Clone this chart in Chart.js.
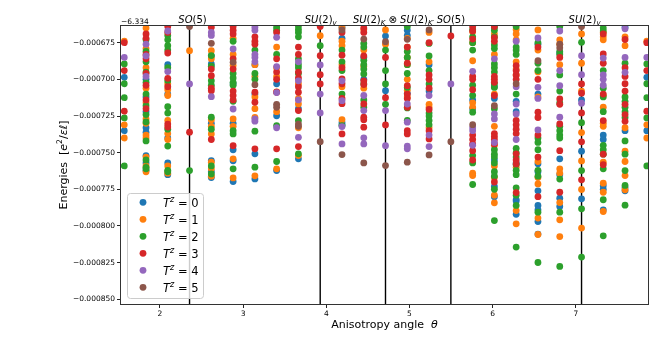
<!DOCTYPE html>
<html><head><meta charset="utf-8">
<script src="https://cdn.jsdelivr.net/npm/chart.js@4/dist/chart.umd.min.js"></script>
<style>html,body{margin:0;padding:0;background:#fff}#wrap{width:664px;height:354px;position:relative}</style>
</head><body><div id="wrap"><canvas id="c" width="664" height="354"></canvas></div>
<script>
// Anisotropy angles (columns)
const angles = [1.571, 1.833, 2.094, 2.356, 2.618, 2.880, 3.142, 3.403, 3.665, 3.927, 4.189, 4.451, 4.712,
                4.974, 5.236, 5.498, 5.760, 6.021, 6.283, 6.545, 6.807, 7.069, 7.330, 7.592, 7.854];
// Energies in units of 1e-6, relative to offset -6.334 (one list per column)
const tz0 = [
 [-698.6,-735],[-700,-712,-722,-733,-736,-752,-757,-762],[-690,-710,-740,-757,-765],[],
 [-684,-689.5,-730,-755.4,-763,-767],[-703,-730,-748,-755.5,-769.7],[-690,-710,-750.8,-767.9],
 [-703,-724.8,-762.2],[-720,-754.2],[],[-664.5,-672,-729.5,-731],[-685,-700],[-670.5,-707.7],
 [-666.5,-670,-709.5],[-690,-708],[],[-714,-720],[-705,-713,-755,-773,-780],
 [-715,-722,-757,-782,-783,-792],[-676,-710,-757.6,-763,-776,-786,-789,-797,-805.5],
 [-682,-754.2,-765,-781,-786.7],[-714,-749,-781.5],[-738,-741,-772.5,-775,-789],
 [-664.5,-735,-774,-776],[-698.6,-735]
];
const tz1 = [
 [-674,-731,-740],[-665,-679,-692,-706,-716,-727,-730,-738,-740,-753,-759,-763],
 [-703,-707,-711,-728,-737,-741,-759,-764],[-680.4],[-680.4,-686,-727.5,-732,-737.2,-756.5,-761,-766],
 [-672,-683,-690.5,-727,-732,-754.2,-767.2],[-690,-698,-712,-720,-726,-765.8],
 [-678,-692,-698,-708.5,-722,-761],[-703,-713,-716.8,-733,-752],[-670.2],
 [-665,-674,-677,-690,-705,-727.5],[-666,-680,-691,-706],[-666.3,-676],
 [-672,-678,-685,-690,-700,-707.5,-712],[-668,-688,-717,-719,-733],[],
 [-667.5,-675,-687.3,-716,-719,-764,-765.6],[-669,-683,-710,-732,-745,-759,-767,-779,-784.2],
 [-666,-669,-673,-688,-693,-697,-760,-789.5,-798.5],[-666.3,-680,-695,-712,-756,-767,-771.3,-794.6,-805.8],
 [-673,-676,-690,-761,-764,-784,-795.8,-807.2],[-669,-689,-708,-736.3,-755.6,-775.1,-801.4],
 [-668,-671,-673,-711,-719,-730,-732,-756.5,-770.8,-777,-790.1],[-671,-677,-733,-749,-756,-765.6,-775.3],
 [-674,-731,-740]
];
const tz2 = [
 [-689.5,-703,-712.5,-726.3,-759],[-673,-681,-688,-695,-702,-710,-718,-724,-729,-742,-755,-760,-761],
 [-670,-673,-677,-680,-692,-701,-718.6,-723,-734,-745.5,-762,-763],[-762.2],
 [-683.8,-691,-700.9,-704,-725.8,-734,-759,-764.5],[-674,-696,-699,-702,-704,-715,-735,-737.2,-761],
 [-680,-696,-700,-735.3,-759.9],[-664.5,-666.5,-683,-731.5,-756],
 [-663.5,-666,-668,-671,-686,-690,-692,-696,-728.1,-750.8],[-677],[-680,-688,-694,-710,-731.5],
 [-675.5,-678,-687,-690,-693,-696.3,-703,-714,-719],[-680,-694,-703.1,-717],
 [-664,-681,-685,-690,-696,-705.5,-719.5,-728],[-675.5,-684,-694,-703.1,-723,-725,-728,-731],[],
 [-666,-671,-675,-680,-704,-711,-722.4,-752,-757,-771.7],
 [-664.5,-666.5,-671,-676.5,-679,-689.5,-692,-695,-703,-705.5,-720,-748,-751,-753,-757,-763,-766,-775,-796.3],
 [-664,-678,-680,-683,-710,-747,-750,-753,-758,-762,-765,-774,-779,-786,-814.4],
 [-675,-689,-694,-740,-743,-748,-762,-766,-790.6,-824.9],
 [-664,-681,-683,-697,-708,-716,-732,-735,-738,-740,-768,-790.6,-827.6],
 [-674.7,-729.5,-762.2,-788.3,-821.2],[-665,-667,-694,-706,-712,-722,-745,-748,-751,-761,-782.1,-806.7],
 [-689,-712,-715,-719,-722,-726,-742,-751,-762.2,-772.3,-785.8],[-689.5,-703,-712.5,-726.3,-759]
];
const tz3 = [
 [-675,-694,-721.7],[-669,-672,-683,-686,-696,-704,-714,-720],[-664,-668,-682,-699.3,-705,-730.5,-732.5],
 [-736],[-664.5,-693,-697.5,-706,-707.7,-741],[-664,-666.5,-669,-686,-693,-708,-711,-714,-745.2],
 [-671,-674,-676,-708.8,-715.6,-747.4],[-668,-686,-695,-700,-708.8,-747.4],
 [-678,-683,-695,-699,-705,-708.8,-721.3,-745.8],[-664,-683.9,-696.8,-703.1],
 [-668,-683.5,-692,-699.7,-703,-713,-716.6,-737.2],[-665,-668,-684,-701,-703.5,-716.8,-725.8,-727.5,-732.6],
 [-685,-712.5,-731.1],[-678,-689,-704.3,-710,-713,-719,-735,-737.2],[-675,-697,-700,-706,-720.5,-735,-740.6],
 [-670.4],[-664,-667,-672.5,-698,-700,-707,-738,-741,-744,-748.6,-755],
 [-664,-671.5,-674,-698,-700,-702,-711,-737,-739,-741,-744,-770],
 [-690.6,-694,-697,-700,-728,-731,-734,-737,-750.8,-755,-757.7,-777.2],
 [-678,-700,-722.4,-726,-738,-753,-780],[-685,-713.4,-717,-730.4,-748.6,-777],
 [-703.1,-709.4,-722.9,-742.6,-768.5],[-669,-682.7,-689,-710,-728.1,-751,-758.2],
 [-672.8,-692,-698,-703,-708,-717,-724,-728.5],[-675,-694,-721.7]
];
const tz4 = [
 [-685],[-676,-684,-698],[-667,-694.7],[-703.1],[-668,-670,-711.8],[-679.3,-720.2],
 [-664.5,-666.5,-683,-685,-688,-727,-728.5],[-671.3,-691.3,-709,-733],[-688,-701,-714,-739.5],
 [-690.2,-710,-722.9],[-701,-714.5,-732.2,-744],[-711,-721.3,-739.9,-744],[-721.3,-745.2],
 [-716.8,-729.2,-745.5,-747.4],[-711,-738,-745.8],[-703.1],[-694.5,-733,-735,-745],
 [-686,-723.6,-727,-743],[-674,-705,-716.8,-723.6,-741],[-671.8,-705.4,-713,-734.5],
 [-667,-694,-704.3,-725.8],[-683.9,-696.8,-716.3],[-685.5,-697,-700,-704],[-665.5,-685,-695.2],[-685]
];
const tz5 = [
 [],[],[],[-664],[-675.4],[-688.4],[-703.6],[-717,-719],[-730.5,-732],[-742.5],[-666.3,-751.3],
 [-672.5,-757],[-674.3,-758.8],[-672.7,-756.5],[-666.3,-751.5],[-742.5],[-730.9],[-718],[-703],
 [-687.3],[-676,-678.5],[-664],[],[],[]
];
const seriesLabels = ['0','1','2','3','4','5'];
const seriesColors = ['#1f77b4','#ff7f0e','#2ca02c','#d62728','#9467bd','#8c564b'];
const xTicks = [2,3,4,5,6,7];
const yTicks = [-850,-825,-800,-775,-750,-725,-700,-675];
const yOffsetText = '\u22126.334';
const symmetryAngles = [2.356, 3.927, 4.712, 5.498, 7.069];
const symmetryNames = [
 [{t:'SO',i:1},{t:'(5)'}],
 [{t:'SU',i:1},{t:'(2)'},{t:'v',i:1,s:'sub'}],
 [{t:'SU',i:1},{t:'(2)'},{t:'K',i:1,s:'sub'},{t:' \u2297 '},{t:'SU',i:1},{t:'(2)'},{t:'K\u2032',i:1,s:'sub'}],
 [{t:'SO',i:1},{t:'(5)'}],
 [{t:'SU',i:1},{t:'(2)'},{t:'v',i:1,s:'sub'}]
];
const xTitle = [{t:'Anisotropy angle  '},{t:'\u03b8',i:1}];
const yTitle = [{t:'Energies  ['},{t:'e',i:1},{t:'2',s:'sup'},{t:'/'},{t:'\u03b5\u2113',i:1},{t:']'}];

const allSeries = [tz0,tz1,tz2,tz3,tz4,tz5];
const FAM = 'DejaVu Sans';
function fnt(size,it){return (it?'italic ':'')+size+'px "'+FAM+'"';}
function runsWidth(ctx,runs,size){let w=0;for(const r of runs){ctx.font=fnt(r.s?size*0.7:size,r.i);w+=ctx.measureText(r.t).width;}return w;}
function drawRuns(ctx,runs,x,y,size,align){
  const w=runsWidth(ctx,runs,size);
  let cx = align==='center'?x-w/2:(align==='right'?x-w:x);
  ctx.textAlign='left'; ctx.textBaseline='alphabetic';
  for(const r of runs){
    const s=r.s?size*0.7:size; ctx.font=fnt(s,r.i);
    const dy=r.s==='sup'?-size*0.38:(r.s==='sub'?size*0.22:0);
    ctx.fillText(r.t,cx,y+dy); cx+=ctx.measureText(r.t).width;
  }
}

const decor = {
  id:'decor',
  beforeDatasetsDraw(chart){
    const {ctx,chartArea:a,scales:{x}}=chart;
    ctx.save(); ctx.strokeStyle='#000'; ctx.lineWidth=1.4;
    for(const v of symmetryAngles){const px=x.getPixelForValue(v);ctx.beginPath();ctx.moveTo(px,a.top);ctx.lineTo(px,a.bottom);ctx.stroke();}
    ctx.restore();
  },
  afterDatasetsDraw(chart){
    const {ctx,chartArea:a,scales:{x}}=chart;
    ctx.save();
    // frame
    ctx.strokeStyle='#333'; ctx.lineWidth=1;
    ctx.strokeRect(Math.round(a.left)-0.5,Math.round(a.top)-0.5,Math.round(a.right-a.left)+1,Math.round(a.bottom-a.top)+1);
    ctx.fillStyle='#000';
    // symmetry labels
    const nudge=[3,0.5,8,0,3];
    symmetryAngles.forEach((v,i)=>{drawRuns(ctx,symmetryNames[i],x.getPixelForValue(v)+nudge[i],22.5,10,'center');});
    // offset text
    ctx.font=fnt(7.5); ctx.textAlign='left'; ctx.fillText(yOffsetText,a.left,23.5);
    // axis titles
    drawRuns(ctx,xTitle,(a.left+a.right)/2,328,11,'center');
    ctx.save(); ctx.translate(66.5,(a.top+a.bottom)/2); ctx.rotate(-Math.PI/2);
    drawRuns(ctx,yTitle,0,0,11,'center'); ctx.restore();
    // legend
    const lx=127, ly=193, lw=76, lh=105;
    ctx.beginPath(); if(ctx.roundRect) ctx.roundRect(lx+0.5,ly+0.5,lw,lh,3); else ctx.rect(lx+0.5,ly+0.5,lw,lh);
    ctx.fillStyle='rgba(255,255,255,0.8)'; ctx.fill(); ctx.strokeStyle='#cccccc'; ctx.lineWidth=1; ctx.stroke();
    seriesLabels.forEach((lab,i)=>{
      const cy=202.3+17*i;
      ctx.beginPath(); ctx.arc(143,cy,3.4,0,Math.PI*2); ctx.fillStyle=seriesColors[i]; ctx.fill();
      ctx.fillStyle='#000';
      drawRuns(ctx,[{t:'T',i:1},{t:'z',i:1,s:'sup'},{t:' = '+lab}],163,cy+4.2,11.5,'left');
    });
    ctx.restore();
  }
};

const datasets = allSeries.map((ser,i)=>{
  const pts=[]; ser.forEach((col,k)=>col.forEach(v=>pts.push({x:angles[k],y:v})));
  return {label:'Tz = '+seriesLabels[i], data:pts, backgroundColor:seriesColors[i], borderWidth:0,
          pointRadius:3.4, pointHoverRadius:3.4, order:5-i, clip:0};
});

Chart.defaults.font.family = FAM;
new Chart(document.getElementById('c'),{
  type:'scatter',
  data:{datasets},
  options:{
    responsive:false, animation:false, devicePixelRatio:1,
    layout:{padding:{top:26,right:16,left:0,bottom:0}},
    plugins:{legend:{display:false},tooltip:{enabled:false}},
    scales:{
      x:{type:'linear',min:1.532,max:7.868,
        afterBuildTicks:s=>{s.ticks=xTicks.map(v=>({value:v}));},
        afterFit:s=>{s.height=50;},
        grid:{display:true,drawOnChartArea:false,tickLength:4,color:'#222'},
        border:{display:false},
        ticks:{font:{size:7.5,family:FAM},color:'#000',padding:2,maxRotation:0,callback:v=>String(v)}},
      y:{type:'linear',min:-853.2,max:-663.6,
        afterBuildTicks:s=>{s.ticks=yTicks.map(v=>({value:v}));},
        afterFit:s=>{s.width=121;},
        grid:{display:true,drawOnChartArea:false,tickLength:4,color:'#222'},
        border:{display:false},
        ticks:{font:{size:7.5,family:FAM},color:'#000',padding:2,callback:v=>'\u2212'+(Math.abs(v)/1e6).toFixed(6)}}
    }
  },
  plugins:[decor]
});
</script></body></html>
